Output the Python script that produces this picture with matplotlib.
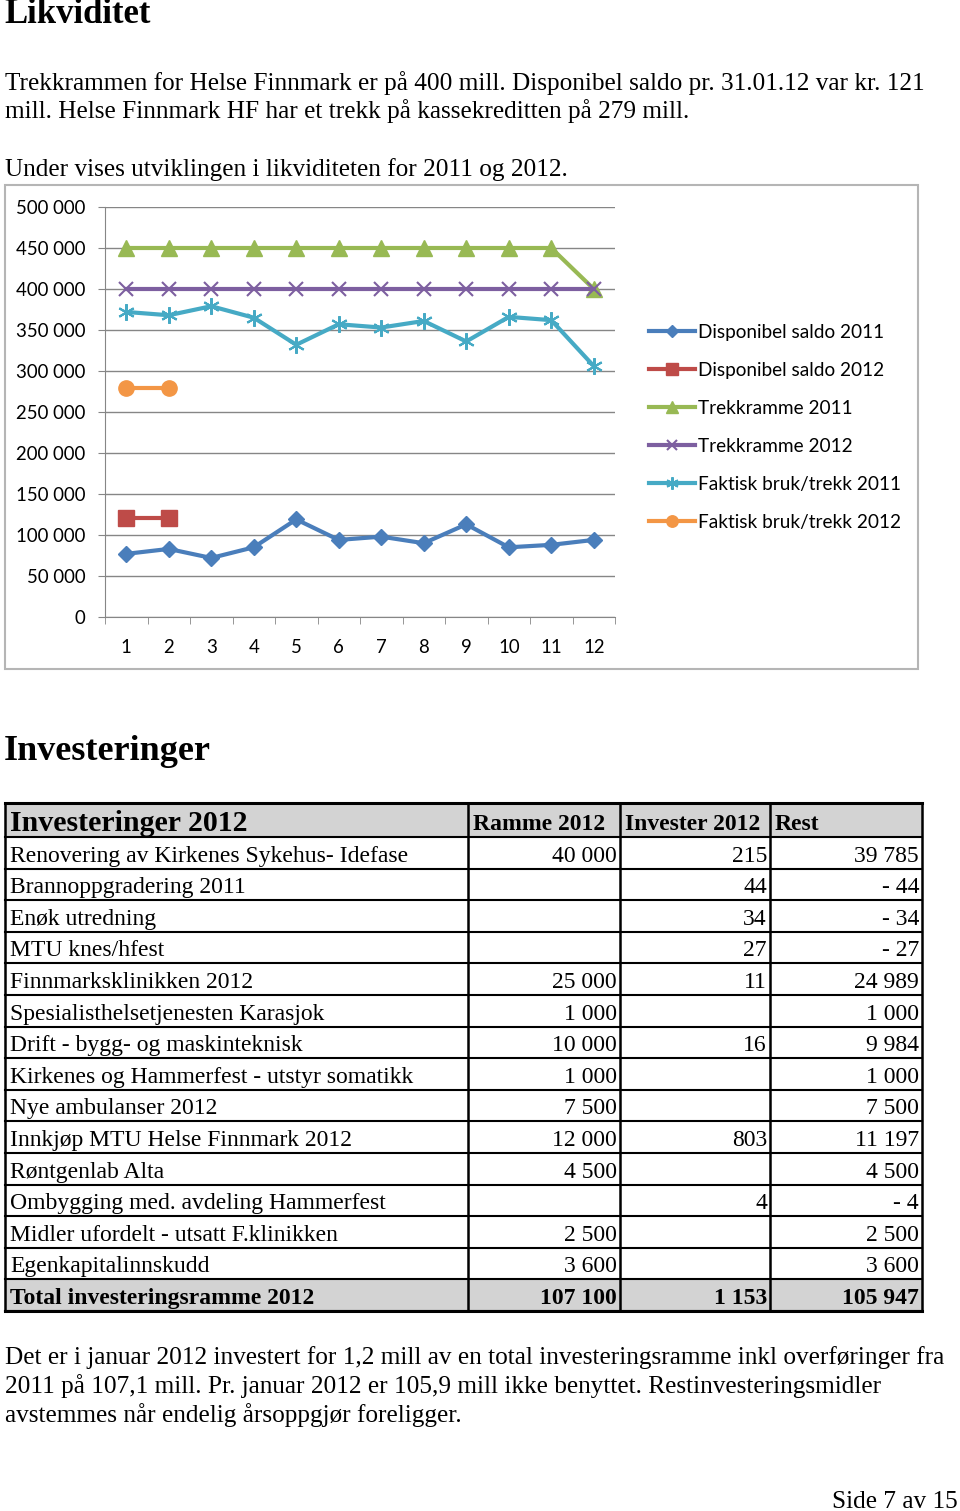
import matplotlib
matplotlib.use('Agg')
import matplotlib.pyplot as plt
from matplotlib.patches import Rectangle
from matplotlib.ticker import FuncFormatter, FixedLocator
import numpy as np

# chart data (1000 kr)
months = [1, 2, 3, 4, 5, 6, 7, 8, 9, 10, 11, 12]
disp_2011 = [77000, 83000, 72000, 85000, 119000, 94000, 98000, 90000, 113000, 85000, 88000, 94000]
disp_2012 = [121000, 121000]
trekk_2011 = [450000] * 11 + [400000]
trekk_2012 = [400000] * 12
faktisk_2011 = [372000, 368000, 379000, 365000, 332000, 357000, 353000, 361000, 336000, 366000, 362000, 306000]
faktisk_2012 = [279000, 279000]

series_labels = ['Disponibel saldo 2011', 'Disponibel saldo 2012', 'Trekkramme 2011',
                 'Trekkramme 2012', 'Faktisk bruk/trekk 2011', 'Faktisk bruk/trekk 2012']
series_colors = ['#4A7EBB', '#BE4B48', '#98B954', '#7D5FA0', '#46AAC5', '#F39645']

# table data
inv_names = ['Renovering av Kirkenes Sykehus- Idefase', 'Brannoppgradering 2011', 'Enøk utredning',
             'MTU knes/hfest', 'Finnmarksklinikken 2012', 'Spesialisthelsetjenesten Karasjok',
             'Drift - bygg- og maskinteknisk', 'Kirkenes og Hammerfest - utstyr somatikk',
             'Nye ambulanser 2012', 'Innkjøp MTU Helse Finnmark 2012', 'Røntgenlab Alta',
             'Ombygging med. avdeling Hammerfest', 'Midler ufordelt - utsatt F.klinikken',
             'Egenkapitalinnskudd']
inv_ramme = [40000, None, None, None, 25000, 1000, 10000, 1000, 7500, 12000, 4500, None, 2500, 3600]
inv_invest = [215, 44, 34, 27, 11, None, 16, None, None, 803, None, 4, None, None]
inv_rest = [39785, -44, -34, -27, 24989, 1000, 9984, 1000, 7500, 11197, 4500, -4, 2500, 3600]
total_row = ['Total investeringsramme 2012', 107100, 1153, 105947]
headers = ['Investeringer 2012', 'Ramme 2012', 'Invester 2012', 'Rest']

W, H = 960, 1511
SERIF = 'Liberation Serif'
SANS = 'Lato'
BODY = 18.2
TAB = 17


def fmt(v):
    if v is None:
        return ''
    s = f"{abs(int(v)):,}".replace(',', ' ')
    return '- ' + s if v < 0 else s


fig = plt.figure(figsize=(W / 100, H / 100), dpi=100)
bg = fig.add_axes([0, 0, 1, 1])
bg.set_xlim(0, W)
bg.set_ylim(H, 0)
bg.axis('off')

# page text
bg.text(4, 23, 'Likviditet', fontsize=25, fontweight='bold', family=SERIF, va='baseline')
bg.text(5, 90, 'Trekkrammen for Helse Finnmark er på 400 mill. Disponibel saldo pr. 31.01.12 var kr. 121',
        fontsize=BODY, family=SERIF, va='baseline')
bg.text(5, 118, 'mill. Helse Finnmark HF har et trekk på kassekreditten på 279 mill.',
        fontsize=BODY, family=SERIF, va='baseline')
bg.text(5, 176, 'Under vises utviklingen i likviditeten for 2011 og 2012.',
        fontsize=BODY, family=SERIF, va='baseline')

# chart frame
bg.add_patch(Rectangle((5, 185), 913, 484, fill=False, ec='#B5B5B5', lw=1.5))

# chart
ax = fig.add_axes([105 / W, 1 - 617 / H, 510 / W, 410 / H])
x = np.arange(len(months))
x2 = np.arange(len(disp_2012))
ax.plot(x, disp_2011, color=series_colors[0], lw=3, marker='D', ms=8, label=series_labels[0], zorder=3)
ax.plot(x2, disp_2012, color=series_colors[1], lw=3, marker='s', ms=11, label=series_labels[1], zorder=3)
ax.plot(x, trekk_2011, color=series_colors[2], lw=3, marker='^', ms=11, label=series_labels[2], zorder=3)
ax.plot(x, trekk_2012, color=series_colors[3], lw=3, marker='x', ms=10, mew=1.5, label=series_labels[3], zorder=3)
ax.plot(x, faktisk_2011, color=series_colors[4], lw=3, marker=(6, 2, 0), ms=12, mew=1.5, label=series_labels[4], zorder=3)
ax.plot(x2, faktisk_2012, color=series_colors[5], lw=3, marker='o', ms=11, label=series_labels[5], zorder=3)

ax.set_xlim(-0.5, len(months) - 0.5)
ax.set_ylim(0, 500000)
ax.set_yticks(np.arange(0, 500001, 50000))
ax.yaxis.set_major_formatter(FuncFormatter(lambda v, p: fmt(v)))
ax.set_xticks(x)
ax.set_xticklabels([str(m) for m in months])
ax.xaxis.set_minor_locator(FixedLocator(np.arange(-0.5, len(months), 1.0)))
ax.tick_params(axis='x', which='major', length=0, pad=16, labelsize=13.4)
ax.tick_params(axis='x', which='minor', length=5, color='#868686', direction='out')
ax.tick_params(axis='y', length=5, color='#868686', labelsize=13.4, pad=9)
for lbl in ax.get_xticklabels() + ax.get_yticklabels():
    lbl.set_family(SANS)
ax.grid(axis='y', color='#868686', lw=1)
ax.set_axisbelow(True)
for side in ['top', 'right']:
    ax.spines[side].set_visible(False)
ax.spines['left'].set_color('#868686')
ax.spines['bottom'].set_color('#868686')
ax.set_facecolor('none')

handles, labels = ax.get_legend_handles_labels()
fig.legend(handles, labels, loc='upper left', bbox_to_anchor=(649 / W, 1 - 324 / H),
           frameon=False, borderpad=0, borderaxespad=0, handlelength=2.4, handletextpad=0.15,
           labelspacing=1.1, prop={'family': SANS, 'size': 13.7}, markerscale=0.75)

# Investeringer heading
bg.text(4, 760, 'Investeringer', fontsize=26, fontweight='bold', family=SERIF, va='baseline')

# table
cols = [5, 468, 620, 770, 922]
header_top, header_bot = 803, 837
row_h = (1311 - header_bot) / 15
bg.add_patch(Rectangle((cols[0], header_top), cols[-1] - cols[0], header_bot - header_top,
                       fc='#D3D3D3', ec='none'))
bg.add_patch(Rectangle((cols[0], header_bot + 14 * row_h), cols[-1] - cols[0], row_h,
                       fc='#D3D3D3', ec='none'))

bg.text(cols[0] + 5, header_bot - 6, headers[0], fontsize=21.5, fontweight='bold', family=SERIF, va='baseline')
for j in range(1, 4):
    bg.text(cols[j] + 5, header_bot - 7, headers[j], fontsize=TAB, fontweight='bold', family=SERIF, va='baseline')

rows = list(zip(inv_names, inv_ramme, inv_invest, inv_rest))
for i, (name, r, inv, rest) in enumerate(rows):
    base = header_bot + (i + 1) * row_h - 7
    bg.text(cols[0] + 5, base, name, fontsize=TAB, family=SERIF, va='baseline')
    for j, v in enumerate([r, inv, rest], start=1):
        bg.text(cols[j + 1] - 3, base, fmt(v), fontsize=TAB, family=SERIF, va='baseline', ha='right')

base = header_bot + 15 * row_h - 7
bg.text(cols[0] + 5, base, total_row[0], fontsize=TAB, fontweight='bold', family=SERIF, va='baseline')
for j, v in enumerate(total_row[1:], start=1):
    bg.text(cols[j + 1] - 3, base, fmt(v), fontsize=TAB, fontweight='bold', family=SERIF, va='baseline', ha='right')

# grid lines of table
for k in range(16):
    yy = header_bot + k * row_h
    bg.plot([cols[0], cols[-1]], [yy, yy], color='black', lw=1.5)
bg.plot([cols[0], cols[-1]], [header_top, header_top], color='black', lw=2.2)
bg.plot([cols[0], cols[-1]], [1311, 1311], color='black', lw=2.2)
for c in cols:
    bg.plot([c, c], [header_top, 1311], color='black', lw=1.8)

# closing text
bg.text(5, 1364, 'Det er i januar 2012 investert for 1,2 mill av en total investeringsramme inkl overføringer fra',
        fontsize=BODY, family=SERIF, va='baseline')
bg.text(5, 1393, '2011 på 107,1 mill. Pr. januar 2012 er 105,9 mill ikke benyttet. Restinvesteringsmidler',
        fontsize=BODY, family=SERIF, va='baseline')
bg.text(5, 1422, 'avstemmes når endelig årsoppgjør foreligger.',
        fontsize=BODY, family=SERIF, va='baseline')
bg.text(958, 1508, 'Side 7 av 15', fontsize=BODY, family=SERIF, va='baseline', ha='right')

fig.savefig('out.png', dpi=100)
